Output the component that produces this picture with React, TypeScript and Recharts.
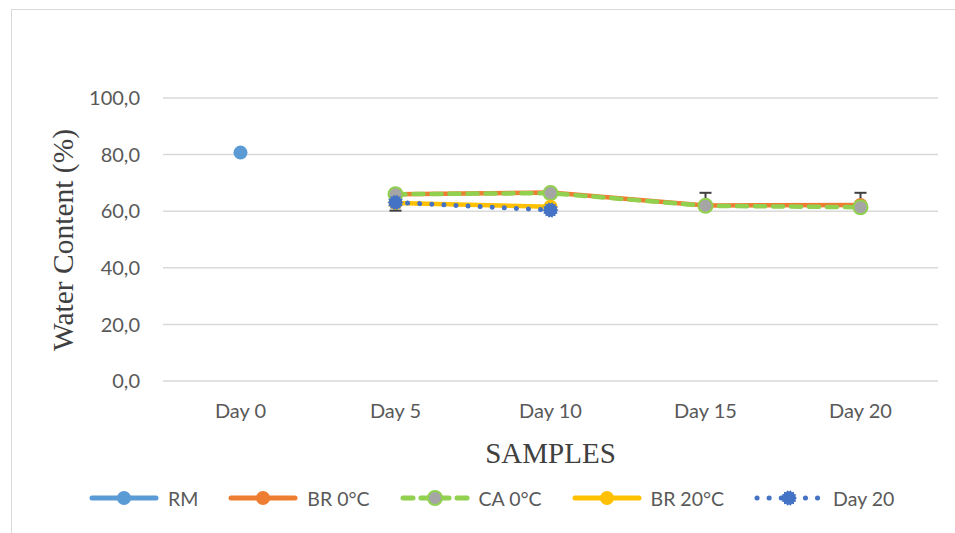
import { CartesianGrid, ErrorBar, Label, Line, LineChart, XAxis, YAxis } from "recharts";

const days = ["Day 0", "Day 5", "Day 10", "Day 15", "Day 20"];
const rm = [80.7, null, null, null, null];
const br0 = [null, 66.0, 66.6, 62.0, 62.2];
const ca0 = [null, 66.0, 66.4, 61.9, 61.4];
const br20 = [null, 62.9, 61.6, null, null];
const day20 = [null, 63.1, 60.4, null, null];
// [minus, plus] error, only where the reference shows a whisker
const br0Err = [null, null, null, [0, 4.5], [0, 4.3]];
const br20Err = [null, [2.7, 0], null, null, null];
const yTicks = [0, 20, 40, 60, 80, 100];

const C_RM = "#5B9BD5";
const C_BR0 = "#ED7D31";
const C_CA0 = "#92D050";
const C_GRAY = "#A5A5A5";
const C_BR20 = "#FFC000";
const C_D20 = "#4472C4";
const TXT = "#595959";
const FONT = "Lato, 'Noto Sans', sans-serif";
const SERIF = "'Liberation Serif', 'Times New Roman', serif";

const data = days.map((d, i) => ({
  day: d,
  rm: rm[i],
  br0: br0[i],
  ca0: ca0[i],
  br20: br20[i],
  day20: day20[i],
  br0Err: br0Err[i],
  br20Err: br20Err[i],
}));

function Star({ cx, cy, r = 8, fill = C_D20 }: { cx?: number; cy?: number; r?: number; fill?: string }) {
  if (cx == null || cy == null) return null;
  const pts: string[] = [];
  const n = 14;
  for (let k = 0; k < n * 2; k++) {
    const rr = k % 2 === 0 ? r : r * 0.8;
    const a = (Math.PI * k) / n;
    pts.push(`${cx + rr * Math.cos(a)},${cy + rr * Math.sin(a)}`);
  }
  return <polygon points={pts.join(" ")} fill={fill} />;
}

const legendItems = [
  { name: "RM", color: C_RM, marker: C_RM, dash: undefined as string | undefined, ring: undefined as string | undefined, star: false },
  { name: "BR 0°C", color: C_BR0, marker: C_BR0, dash: undefined, ring: undefined, star: false },
  { name: "CA 0°C", color: C_CA0, marker: C_GRAY, dash: "10 8", ring: C_CA0, star: false },
  { name: "BR 20°C", color: C_BR20, marker: C_BR20, dash: undefined, ring: undefined, star: false },
  { name: "Day 20", color: C_D20, marker: C_D20, dash: "0.1 12", ring: undefined, star: true },
];

function LegendRow() {
  return (
    <div
      style={{
        position: "absolute",
        left: 88,
        top: 486,
        display: "flex",
        alignItems: "center",
        gap: 29,
        fontFamily: FONT,
        fontSize: 19.5,
        color: TXT,
      }}
    >
      {legendItems.map((it) => (
        <div key={it.name} style={{ display: "flex", alignItems: "center", gap: 8 }}>
          <svg width={72} height={24}>
            <line
              x1={4}
              y1={12}
              x2={68}
              y2={12}
              stroke={it.color}
              strokeWidth={5}
              strokeLinecap="round"
              strokeDasharray={it.dash}
            />
            {it.star ? (
              <Star cx={36} cy={12} />
            ) : (
              <circle cx={36} cy={12} r={7} fill={it.marker} stroke={it.ring} strokeWidth={it.ring ? 2 : 0} />
            )}
          </svg>
          <span>{it.name}</span>
        </div>
      ))}
    </div>
  );
}

export default function App() {
  return (
    <div style={{ position: "absolute", left: 0, top: 0, width: 955, height: 533, background: "#fff" }}>
      <div
        style={{
          position: "absolute",
          left: 11,
          top: 9,
          width: 960,
          height: 540,
          borderLeft: "1.5px solid #D9D9D9",
          borderTop: "1.5px solid #D9D9D9",
        }}
      />
      <LineChart
        width={955}
        height={533}
        data={data}
        margin={{ top: 98, right: 17, bottom: 72, left: 83 }}
        style={{ position: "absolute", left: 0, top: 0 }}
      >
        <CartesianGrid stroke="#D9D9D9" strokeWidth={1.5} vertical={false} />
        <XAxis
          dataKey="day"
          axisLine={false}
          tickLine={false}
          padding={{ left: 77.5, right: 77.5 }}
          tick={{ fontSize: 20, fill: TXT, fontFamily: FONT }}
          tickMargin={17}
          height={80}
        >
          <Label
            value="SAMPLES"
            position="insideBottom"
            offset={-2}
            style={{ fontFamily: SERIF, fontSize: 29, fill: "#404040" }}
          />
        </XAxis>
        <YAxis
          domain={[0, 100]}
          ticks={yTicks}
          axisLine={false}
          tickLine={false}
          width={80}
          tickMargin={17}
          tickFormatter={(v: number) => v.toFixed(1).replace(".", ",")}
          tick={{ fontSize: 20, fill: TXT, fontFamily: FONT }}
        >
          <Label
            content={() => (
              <text
                x={63}
                y={240}
                transform="rotate(-90 63 240)"
                textAnchor="middle"
                dominantBaseline="central"
                style={{ fontFamily: SERIF, fontSize: 29.5, fill: "#404040" }}
              >
                Water Content (%)
              </text>
            )}
          />
        </YAxis>
        <Line
          dataKey="rm"
          stroke={C_RM}
          strokeWidth={4.5}
          dot={{ r: 7, fill: C_RM, stroke: C_RM, strokeWidth: 0 }}
          isAnimationActive={false}
        />
        <Line
          dataKey="br0"
          stroke={C_BR0}
          strokeWidth={4.5}
          dot={{ r: 7, fill: C_BR0, stroke: C_BR0, strokeWidth: 0 }}
          isAnimationActive={false}
        >
          <ErrorBar dataKey="br0Err" direction="y" width={6} stroke="#404040" strokeWidth={2} />
        </Line>
        <Line
          dataKey="ca0"
          stroke={C_CA0}
          strokeWidth={4.5}
          strokeDasharray="10 8"
          strokeLinecap="round"
          dot={{ r: 7, fill: C_GRAY, stroke: C_CA0, strokeWidth: 2, strokeDasharray: "" }}
          isAnimationActive={false}
        />
        <Line
          dataKey="br20"
          stroke={C_BR20}
          strokeWidth={4.5}
          dot={{ r: 7, fill: C_BR20, stroke: C_BR20, strokeWidth: 0 }}
          isAnimationActive={false}
        >
          <ErrorBar dataKey="br20Err" direction="y" width={6} stroke="#404040" strokeWidth={2} />
        </Line>
        <Line
          dataKey="day20"
          stroke={C_D20}
          strokeWidth={5}
          strokeDasharray="0.1 12"
          strokeLinecap="round"
          dot={(p: { cx?: number; cy?: number; index?: number }) => <Star key={p.index} cx={p.cx} cy={p.cy} />}
          isAnimationActive={false}
        />
      </LineChart>
      <LegendRow />
    </div>
  );
}
